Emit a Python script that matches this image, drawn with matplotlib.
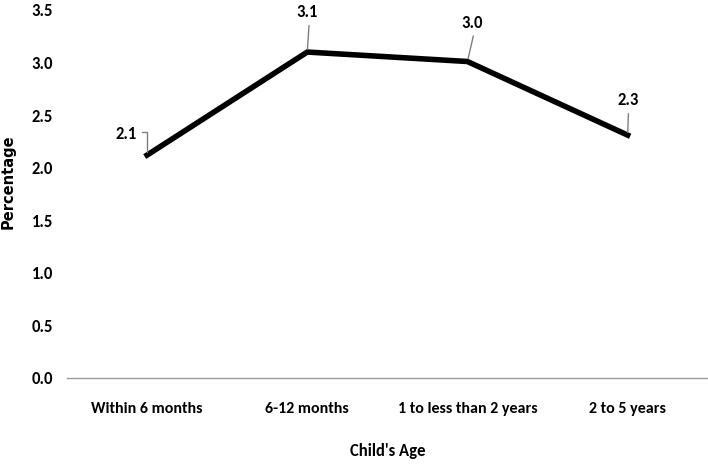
import numpy as np
import matplotlib.pyplot as plt
from matplotlib import font_manager

ages = ["Within 6 months", "6-12 months", "1 to less than 2 years", "2 to 5 years"]
percent = [2.12, 3.10, 3.01, 2.31]
labels = ["2.1", "3.1", "3.0", "2.3"]
# label offsets (pixels) and leader style
offsets = [(-21, 21), (0, 40), (5, 39), (1, 35)]
conns = ["angle,angleA=0,angleB=90,rad=0", "arc3", "arc3", "arc3"]
relpos = [(1.0, 0.6), (0.6, 0.0), (0.6, 0.0), (0.5, 0.0)]

# Calibri-like face, whichever is installed
available = {f.name for f in font_manager.fontManager.ttflist}
face = next(n for n in ['Carlito', 'Open Sans Condensed', 'Barlow Semi Condensed',
                        'Asap Condensed', 'DejaVu Sans'] if n in available)
plt.rcParams['font.family'] = [face, 'DejaVu Sans']
plt.rcParams['font.weight'] = 'bold'

fig = plt.figure(figsize=(7.08, 4.67), dpi=100)
ax = fig.add_axes([0.0946, 0.1906, 0.905, 0.788])

x = np.arange(len(ages))
ax.plot(x, percent, color='black', linewidth=4, solid_joinstyle='miter')

for i, (v, lab) in enumerate(zip(percent, labels)):
    ax.annotate(lab, xy=(i, v), xytext=offsets[i], textcoords='offset pixels',
                ha='center', va='center', fontsize=12, fontweight='bold',
                arrowprops=dict(arrowstyle='-', color='#7f7f7f', lw=1,
                                connectionstyle=conns[i], relpos=relpos[i],
                                shrinkA=2, shrinkB=2))

ax.set_xlim(-0.5, 3.5)
ax.set_ylim(0, 3.5)
ax.set_yticks(np.arange(0, 3.51, 0.5))
ax.set_yticklabels([f"{t:.1f}" for t in np.arange(0, 3.51, 0.5)], fontsize=12)
ax.set_xticks(x)
ax.set_xticklabels(ages, fontsize=11.5)
ax.tick_params(axis='x', length=0, pad=17)
ax.tick_params(axis='y', length=0, pad=10)

for s in ['top', 'right', 'left']:
    ax.spines[s].set_visible(False)
ax.spines['bottom'].set_color('#9a9a9a')
ax.spines['bottom'].set_linewidth(1)

ax.set_xlabel("Child's Age", fontsize=12, fontweight='bold', labelpad=20)
fig.text(0.012, 0.61, "Percentage", rotation=90, ha='center', va='center',
         fontsize=10.5, fontweight='bold', family='DejaVu Sans')

fig.savefig('out.png', dpi=100)
